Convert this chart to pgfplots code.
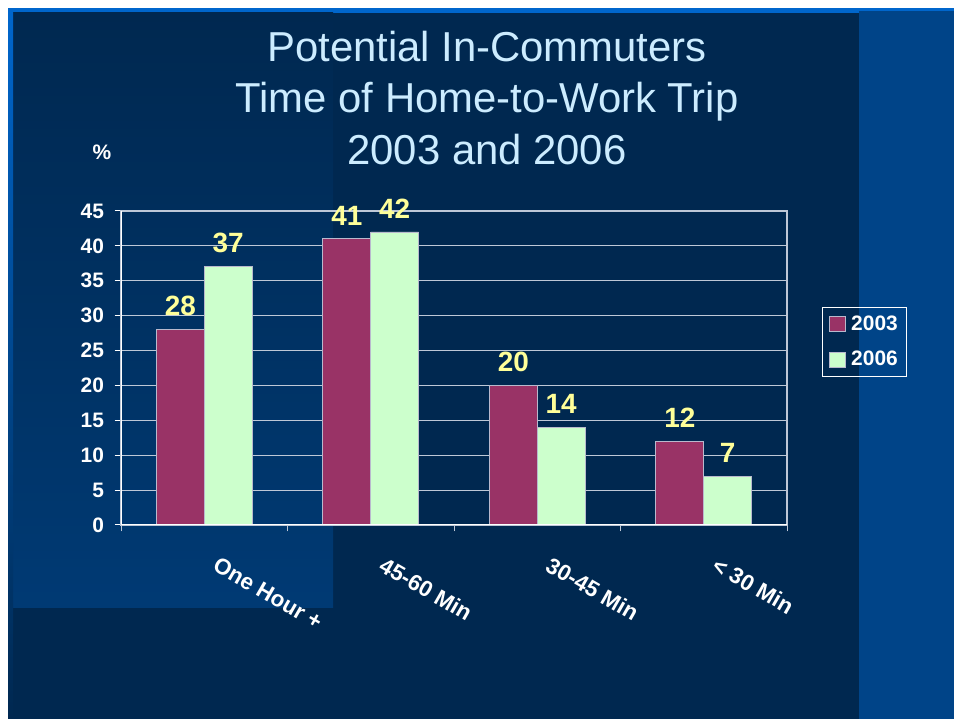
\documentclass[border=0pt]{standalone}
\usepackage{pgfplots}
\pgfplotsset{compat=1.18}
\usepackage{fontspec}
\setmainfont{Liberation Sans}
\definecolor{navy}{RGB}{0,40,80}
\definecolor{topblue}{RGB}{0,102,204}
\definecolor{rightblue}{RGB}{0,68,136}
\definecolor{lightrect}{RGB}{0,58,116}
\definecolor{bara}{RGB}{153,51,102}
\definecolor{barb}{RGB}{204,255,204}
\definecolor{lab}{RGB}{255,255,153}
\definecolor{titlec}{RGB}{204,236,255}
\definecolor{gridc}{RGB}{190,200,215}
\definecolor{bard}{RGB}{185,185,205}
\begin{document}
\begin{tikzpicture}[x=1bp,y=1bp]
\useasboundingbox (0,0) rectangle (954,719);
\fill[white] (0,0) rectangle (954,719);
\fill[topblue] (8,0) rectangle (954,711);
\fill[navy] (13,0) rectangle (859,706);
\fill[rightblue] (859,0) rectangle (954,708);
\shade[top color=navy, bottom color=lightrect] (13,111) rectangle (333,706);
\shade[top color=topblue, bottom color=navy] (8,0) rectangle (13,706);
% title
\foreach \t/\yy in {{Potential In-Commuters}/657,{Time of Home-to-Work Trip}/606,{2003 and 2006}/554}{
  \node[anchor=base, inner sep=0pt, text=titlec, font=\fontsize{42}{50}\selectfont] at (487,\yy) {\t};
}
\node[text=white, font=\bfseries\fontsize{21}{25}\selectfont, inner sep=0pt] at (102,567) {\%};
\begin{axis}[
  at={(121bp,194bp)}, anchor=south west,
  scale only axis, width=666bp, height=314bp,
  ybar=0pt, bar width=0.288,
  xmin=-0.5, xmax=3.5, ymin=0, ymax=45,
  xtick={-0.5,0.5,1.5,2.5,3.5}, xticklabels={},
  extra x ticks={0,1,2,3},
  extra x tick labels={One Hour +,45-60 Min,30-45 Min,< 30 Min},
  extra x tick style={major tick length=0pt, xticklabel style={text=white, font=\bfseries\fontsize{22.5}{26}\selectfont, inner sep=0pt, anchor=north west, xshift=15bp, yshift=-31bp, rotate=-30}},
  ytick={0,5,...,45},
  xtick pos=bottom, ytick pos=left,
  axis line style={gridc, line width=1.2bp},
  tick align=outside,
  major tick length=6.5bp,
  xtick style={gridc, line width=1bp},
  ytick style={white, line width=1bp},
  ymajorgrids, major grid style={gridc, line width=1.2bp},
  /pgf/number format/assume math mode=true,
  yticklabel style={text=white, font=\bfseries\fontsize{21}{25}\selectfont, xshift=-7bp},
  nodes near coords,
  every node near coord/.append style={text=lab, font=\bfseries\fontsize{28}{32}\selectfont, yshift=10bp},
  legend style={at={(1.0526,0.694)}, anchor=north west, draw=white, fill=none, text=white, font=\bfseries\fontsize{21}{25}\selectfont, inner xsep=6bp, inner ysep=9bp, row sep=19bp, nodes={inner xsep=2bp, inner ysep=0pt}},
  legend cell align=left,
  legend image code/.code={\path[draw=none, fill=none] (0bp,0bp) -- (21bp,0bp); \draw[#1, draw=bard] (1bp,-7.5bp) rectangle (17bp,7.5bp);},
]
\addplot[fill=bara, draw=bard, line width=0.8bp] coordinates {(0,28) (1,41) (2,20) (3,12)};
\addplot[fill=barb, draw=bard, line width=0.8bp] coordinates {(0,37) (1,42) (2,14) (3,7)};
\legend{2003,2006}
\draw[white, line width=1.2bp] (rel axis cs:0,0) -- (rel axis cs:0,1);
\draw[white, line width=1.2bp] (rel axis cs:0,0) -- (rel axis cs:1,0);
\end{axis}
\end{tikzpicture}
\end{document}
